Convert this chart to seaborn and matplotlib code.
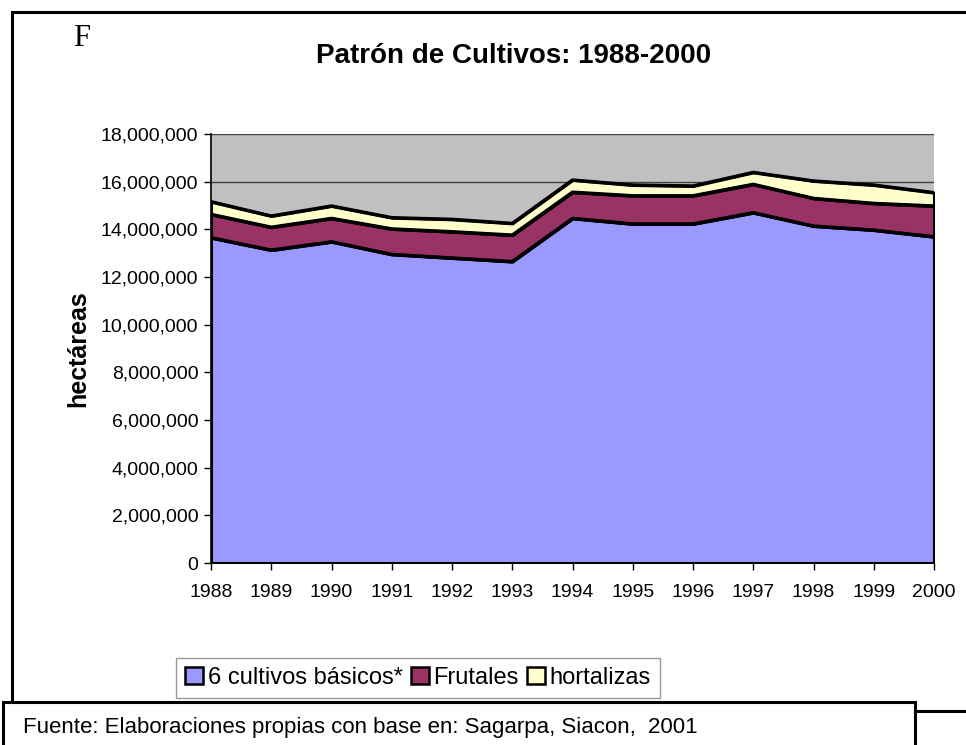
import numpy as np
import pandas as pd
import seaborn as sns
import matplotlib.pyplot as plt
from matplotlib.patches import Rectangle, Patch
from matplotlib.ticker import FuncFormatter, MultipleLocator

# hectareas por grupo de cultivo
years = [1988, 1989, 1990, 1991, 1992, 1993, 1994, 1995, 1996, 1997, 1998, 1999, 2000]
basicos = [13650000, 13130000, 13480000, 12950000, 12800000, 12650000, 14460000,
           14230000, 14230000, 14700000, 14140000, 13970000, 13690000]
frutales = [980000, 960000, 980000, 1070000, 1100000, 1110000, 1100000,
            1180000, 1180000, 1190000, 1160000, 1120000, 1290000]
hortalizas = [530000, 470000, 520000, 470000, 520000, 490000, 510000,
              450000, 410000, 500000, 730000, 770000, 560000]

series_names = ['6 cultivos básicos*', 'Frutales', 'hortalizas']
colors = ['#9999FF', '#993366', '#FFFFCC']

df = pd.DataFrame({'year': years, series_names[0]: basicos,
                   series_names[1]: frutales, series_names[2]: hortalizas})

sns.set_style('white')
plt.rcParams['font.family'] = ['Liberation Sans', 'DejaVu Sans']
# pure black text like the original Excel chart
plt.rcParams['text.color'] = 'black'
plt.rcParams['axes.labelcolor'] = 'black'
plt.rcParams['xtick.color'] = 'black'
plt.rcParams['ytick.color'] = 'black'

W, H = 966, 745
fig = plt.figure(figsize=(W / 100, H / 100), dpi=100)


def px_box(x0, y0, x1, y1):
    # pixel box (top-left origin) -> figure fraction rect
    return [x0 / W, 1 - y1 / H, (x1 - x0) / W, (y1 - y0) / H]


ax = fig.add_axes(px_box(211, 134, 934, 563))
ax.set_facecolor('#C0C0C0')

# horizontal gridlines below the areas
for v in range(0, 18000001, 2000000):
    ax.axhline(v, color='#404040', lw=1, zorder=0)

ax.stackplot(df['year'], df[series_names[0]], df[series_names[1]], df[series_names[2]],
             colors=colors, edgecolor='black', linewidth=2.2, zorder=2)

# boundary lines on top of the fills
cum = df[series_names].cumsum(axis=1)
for name in series_names:
    sns.lineplot(x=df['year'], y=cum[name], color='black', lw=2.4, ax=ax, zorder=3)

ax.set_xlim(1988, 2000)
ax.set_ylim(0, 18000000)
ax.set_xticks(years)
ax.yaxis.set_major_locator(MultipleLocator(2000000))
ax.yaxis.set_major_formatter(FuncFormatter(lambda v, p: f'{int(v):,}'))
ax.tick_params(axis='both', which='major', labelsize=14, length=5, width=1,
               direction='out', color='black', labelcolor='black', bottom=True, left=True)
ax.tick_params(axis='x', pad=10)
ax.tick_params(axis='y', pad=4)
ax.set_xlabel('')
ax.set_ylabel('hectáreas', fontsize=18, fontweight='bold', labelpad=8, color='black')

for s in ['top', 'right']:
    ax.spines[s].set_visible(False)
for s in ['left', 'bottom']:
    ax.spines[s].set_color('black')
    ax.spines[s].set_linewidth(1.2)
    ax.spines[s].set_zorder(5)

# title and stray label
fig.text(514 / W, 1 - 56 / H, 'Patrón de Cultivos: 1988-2000', ha='center', va='center',
         fontsize=20, fontweight='bold', color='black')
fig.text(73 / W, 1 - 46 / H, 'F', ha='left', va='baseline', fontsize=22, color='black',
         family=['Liberation Serif', 'DejaVu Serif'])

# outer chart frame
fig.add_artist(Rectangle((12 / W, 1 - 711 / H), (W + 10 - 12) / W, (711 - 12) / H,
                         transform=fig.transFigure, fill=False, edgecolor='black',
                         lw=2.2, clip_on=False))

# legend
handles = [Patch(facecolor=c, edgecolor='black', lw=1.8) for c in colors]
leg = fig.legend(handles, series_names, loc='center', bbox_to_anchor=(418 / W, 1 - 678 / H),
                 ncol=3, fontsize=17, frameon=True, fancybox=False, handlelength=0.75,
                 handleheight=0.75, handletextpad=0.2, columnspacing=0.35, borderpad=0.4,
                 borderaxespad=0, labelcolor='black')
leg.get_frame().set_edgecolor('#808080')
leg.get_frame().set_linewidth(1)

# source note box
fig.add_artist(Rectangle((3 / W, 1 - 760 / H), (915 - 3) / W, (760 - 702) / H,
                         transform=fig.transFigure, facecolor='white', edgecolor='black',
                         lw=2.2, clip_on=False, zorder=10))
fig.text(23 / W, 1 - 727 / H, 'Fuente: Elaboraciones propias con base en: Sagarpa, Siacon,  2001',
         ha='left', va='center', fontsize=16, color='black', zorder=11)

fig.savefig('out.png', dpi=100)
